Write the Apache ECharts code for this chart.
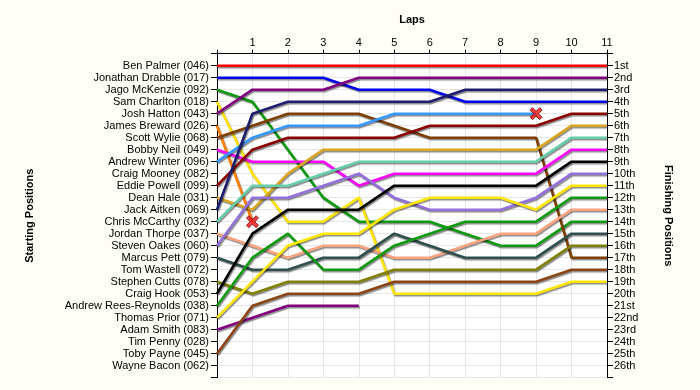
<!DOCTYPE html>
<html>
<head>
<meta charset="utf-8">
<script src="https://cdn.jsdelivr.net/npm/echarts@6/dist/echarts.min.js"></script>
<style>
html,body{margin:0;padding:0;background:#FEFEF6;}
#c{width:700px;height:390px;}
</style>
</head>
<body>
<div id="c"></div>
<script>
// Starting grid (left axis labels), rows 1..26
const startNames = [
  'Ben Palmer (046)','Jonathan Drabble (017)','Jago McKenzie (092)','Sam Charlton (018)',
  'Josh Hatton (043)','James Breward (026)','Scott Wylie (068)','Bobby Neil (049)',
  'Andrew Winter (096)','Craig Mooney (082)','Eddie Powell (099)','Dean Hale (031)',
  'Jack Aitken (069)','Chris McCarthy (032)','Jordan Thorpe (037)','Steven Oakes (060)',
  'Marcus Pett (079)','Tom Wastell (072)','Stephen Cutts (078)','Craig Hook (053)',
  'Andrew Rees-Reynolds (038)','Thomas Prior (071)','Adam Smith (083)','Tim Penny (028)',
  'Toby Payne (045)','Wayne Bacon (062)'
];
const finishLabels = ['1st','2nd','3rd','4th','5th','6th','7th','8th','9th','10th','11th','12th','13th',
  '14th','15th','16th','17th','18th','19th','20th','21st','22nd','23rd','24th','25th','26th'];
const lapTicks = [1,2,3,4,5,6,7,8,9,10,11];

// Position at lap 0..11 for each driver
const benPalmer      = [1,1,1,1,1,1,1,1,1,1,1,1];
const jonDrabble     = [2,2,2,2,3,3,3,4,4,4,4,4];
const jagoMcKenzie   = [3,4,8,12,14,14,14,15,16,16,14,14];
const samCharlton    = [4,10,14,14,12,20,20,20,20,20,19,19];
const joshHatton     = [5,3,3,3,2,2,2,2,2,2,2,2];
const jamesBreward   = [6,14];
const scottWylie     = [7,6,5,5,5,6,7,7,7,7,17,17];
const bobbyNeil      = [8,9,9,9,11,10,10,10,10,10,8,8];
const andrewWinter   = [9,7,6,6,6,5,5,5,5,5];
const eddiePowell    = [11,8,7,7,7,7,6,6,6,6,5,5];
const deanHale       = [12,13,10,8,8,8,8,8,8,8,6,6];
const jackAitken     = [13,5,4,4,4,4,4,3,3,3,3,3];
const chrisMcCarthy  = [14,11,11,10,9,9,9,9,9,9,7,7];
const jordanThorpe   = [15,16,17,16,16,17,17,16,15,15,13,13];
const stevenOakes    = [16,12,12,11,10,12,13,13,13,12,10,10];
const marcusPett     = [17,18,18,17,17,15,16,17,17,17,15,15];
const stephenCutts   = [19,20,19,19,19,18,18,18,18,18,16,16];
const craigHook      = [20,15,13,13,13,11,11,11,11,11,9,9];
const andrewRR       = [21,17,15,18,18,16,15,14,14,14,12,12];
const thomasPrior    = [22,19,16,15,15,13,12,12,12,13,11,11];
const adamSmith      = [23,22,21,21,21];
const tobyPayne      = [25,21,20,20,20,19,19,19,19,19,18,18];

const drivers = [
  {name:'Ben Palmer', pos:benPalmer, color:'#FF0000'},
  {name:'Jonathan Drabble', pos:jonDrabble, color:'#0000EE'},
  {name:'Jago McKenzie', pos:jagoMcKenzie, color:'#0E9A0E'},
  {name:'Sam Charlton', pos:samCharlton, color:'#FFE600'},
  {name:'Josh Hatton', pos:joshHatton, color:'#800080'},
  {name:'James Breward', pos:jamesBreward, color:'#FF8000', retired:true},
  {name:'Scott Wylie', pos:scottWylie, color:'#7F3F00'},
  {name:'Bobby Neil', pos:bobbyNeil, color:'#FF00FF'},
  {name:'Andrew Winter', pos:andrewWinter, color:'#3399FF', retired:true},
  {name:'Eddie Powell', pos:eddiePowell, color:'#8B0000'},
  {name:'Dean Hale', pos:deanHale, color:'#DAA520'},
  {name:'Jack Aitken', pos:jackAitken, color:'#1E1E6E'},
  {name:'Chris McCarthy', pos:chrisMcCarthy, color:'#66CDAA'},
  {name:'Jordan Thorpe', pos:jordanThorpe, color:'#F9A27E'},
  {name:'Steven Oakes', pos:stevenOakes, color:'#9370DB'},
  {name:'Marcus Pett', pos:marcusPett, color:'#2F4F4F'},
  {name:'Stephen Cutts', pos:stephenCutts, color:'#808000'},
  {name:'Craig Hook', pos:craigHook, color:'#000000'},
  {name:'Andrew Rees-Reynolds', pos:andrewRR, color:'#0E9A0E'},
  {name:'Thomas Prior', pos:thomasPrior, color:'#FFE600'},
  {name:'Adam Smith', pos:adamSmith, color:'#800080'},
  {name:'Toby Payne', pos:tobyPayne, color:'#8B4513'}
];

const FONT = 'Liberation Sans, Arial, sans-serif';
const xPath = 'path://M0,2 L2,0 L5,3 L8,0 L10,2 L7,5 L10,8 L8,10 L5,7 L2,10 L0,8 L3,5 Z';

const series = drivers.map(d => ({
  type:'line', name:d.name, xAxisIndex:0, yAxisIndex:0,
  data:d.pos.map((p,i)=>[i,p]),
  symbol:'none', silent:true,
  lineStyle:{color:d.color, width:2.6, shadowColor:'rgba(0,0,0,0.45)', shadowOffsetX:1, shadowOffsetY:1.5, shadowBlur:1},
  itemStyle:{color:d.color}
}));
series.push({
  type:'scatter', xAxisIndex:0, yAxisIndex:0, z:5,
  symbol:xPath, symbolSize:12,
  itemStyle:{color:'#EE1111', borderColor:'#700000', borderWidth:1},
  data: drivers.filter(d=>d.retired).map(d=>[d.pos.length-1, d.pos[d.pos.length-1]])
});

const chart = echarts.init(document.getElementById('c'));
chart.setOption({
  animation:false,
  backgroundColor:'#FEFEF6',
  textStyle:{fontFamily:FONT},
  grid:{left:217, right:93, top:53.7, bottom:12.3, show:true, backgroundColor:'#FFFFFF', borderWidth:0},
  xAxis:[{
    type:'value', position:'top', min:0, max:11, interval:1,
    name:'Laps', nameLocation:'middle', nameGap:28,
    nameTextStyle:{fontFamily:FONT, fontSize:11, fontWeight:'bold', color:'#000'},
    axisLine:{show:true, lineStyle:{color:'#000', width:1}},
    axisTick:{show:true, length:4, lineStyle:{color:'#000'}},
    axisLabel:{fontFamily:FONT, fontSize:11, color:'#000', margin:5,
      formatter:v => lapTicks.includes(v) ? String(v) : ''},
    splitLine:{show:true, lineStyle:{color:'#E6E6E6', width:1}}
  }],
  yAxis:[{
    type:'value', position:'left', inverse:true, min:0, max:27, interval:1,
    name:'Starting Positions', nameLocation:'middle', nameGap:182, nameRotate:90,
    nameTextStyle:{fontFamily:FONT, fontSize:11, fontWeight:'bold', color:'#000'},
    axisLine:{show:true, onZero:false, lineStyle:{color:'#000', width:1}},
    axisTick:{show:true, length:6, lineStyle:{color:'#000'}},
    axisLabel:{fontFamily:FONT, fontSize:11, color:'#000', margin:8,
      formatter:v => startNames[v-1] || ''},
    splitLine:{show:true, lineStyle:{color:'#E6E6E6', width:1}}
  },{
    type:'value', position:'right', inverse:true, min:0, max:27, interval:1,
    name:'Finishing Positions', nameLocation:'middle', nameGap:56, nameRotate:-90,
    nameTextStyle:{fontFamily:FONT, fontSize:11, fontWeight:'bold', color:'#000'},
    axisLine:{show:true, onZero:false, lineStyle:{color:'#000', width:1}},
    axisTick:{show:true, length:6, lineStyle:{color:'#000'}},
    axisLabel:{fontFamily:FONT, fontSize:11, color:'#000', margin:7,
      formatter:v => finishLabels[v-1] || ''},
    splitLine:{show:false}
  }],
  series:series
});
</script>
</body>
</html>
